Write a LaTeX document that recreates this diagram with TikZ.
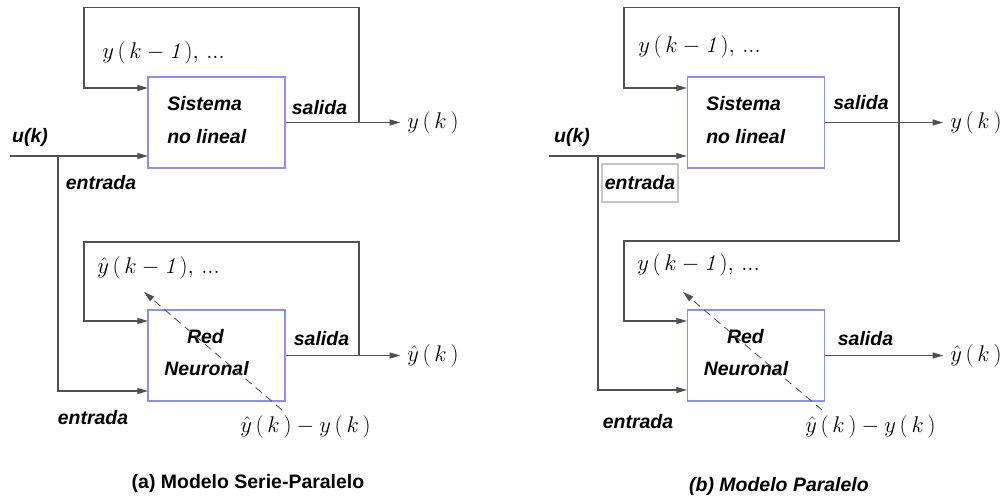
\documentclass[tikz,border=0pt]{standalone}
\usepackage{fix-cm}
\usepackage{fontspec}
\setsansfont{Liberation Sans}
\usetikzlibrary{arrows.meta}

\definecolor{wire}{HTML}{505050}
\definecolor{boxblue}{HTML}{8C8CFF}
\definecolor{framegray}{HTML}{C4C4C4}

% tight baseline dots used after the delayed outputs
\newcommand{\tdots}{{.}{.}{.}}

\tikzset{
  wire/.style={draw=wire, line width=0.8pt},
  arr/.style={wire, -{Triangle[length=8pt,width=4.5pt]}},
  dasharr/.style={wire, line width=0.6pt, dash pattern=on 6pt off 4pt, -{Triangle[length=8pt,width=4.5pt]}},
  blockbox/.style={draw=boxblue, line width=0.9pt, minimum width=102.75pt, minimum height=68.25pt, inner sep=0pt},
  lbl/.style={font=\sffamily\bfseries\itshape\fontsize{14.6}{17}\selectfont, inner sep=0pt},
  mlbl/.style={font=\fontsize{17}{20}\selectfont, inner sep=0pt},
  captxt/.style={font=\sffamily\bfseries\fontsize{14.6}{17}\selectfont, inner sep=0pt},
  framed/.style={lbl, draw=framegray, line width=1.4pt, minimum width=57pt, minimum height=28.5pt},
}

\begin{document}
\begin{tikzpicture}[x=0.75pt, y=-0.75pt]
\useasboundingbox (0,0) rectangle (1003,498);

% ---------------- (a) series-parallel model ----------------
\node[blockbox] (sys1) at (216.5,122.5) {};
\node[blockbox] (nn1) at (216.5,355.5) {};
\node[lbl, anchor=west] (sys1l1) at (167,104) {Sistema};
\node[lbl, anchor=west] (sys1l2) at (167,137) {no lineal};
\node[lbl] (nn1l1) at (205.5,337) {Red};
\node[lbl] (nn1l2) at (206.5,369) {Neuronal};
\node[lbl] (u1) at (30,137) {u(k)};
\node[lbl] (in1a) at (101,183) {entrada};
\node[lbl] (in1b) at (93,418) {entrada};
\node[lbl] (out1a) at (319.5,108) {salida};
\node[lbl] (out1b) at (321.5,339) {salida};
\node[mlbl, anchor=west] (y1) at (407,122.5) {$y\,(\,k\,)$};
\node[mlbl, anchor=west] (yh1) at (407,355.5) {$\hat y\,(\,k\,)$};
\node[mlbl, anchor=west] (fb1) at (102,53) {$y\,(\,k-\mathit{1}\,),\,\tdots$};
\node[mlbl, anchor=west] (fbh1) at (97,268) {$\hat y\,(\,k-\mathit{1}\,),\,\tdots$};
\node[mlbl, anchor=west] (err1) at (240,427) {$\hat y\,(\,k\,)-y\,(\,k\,)$};
\node[captxt] (capa) at (248,483) {(a) Modelo Serie-Paralelo};

\coordinate (src1) at (10,156);
\coordinate (j1) at (58,156);
\coordinate (j1b) at (58,391);
\coordinate (sys1in) at (148,156);
\coordinate (nn1in) at (148,391);
\coordinate (o1) at (359,122.5);
\coordinate (o1b) at (359,355.5);
\coordinate (top1) at (84,7.5);
\coordinate (top1b) at (84,242);
\coordinate (sys1fb) at (148,88);
\coordinate (nn1fb) at (148,321);
\coordinate (dsh1s) at (282,410);
\coordinate (dsh1e) at (144,292);

\draw[arr] (src1) -- (sys1in);
\draw[arr] (j1) -- (j1b) -- (nn1in);
\draw[arr] (sys1.east) -- ([xshift=-5pt]y1.west);
\draw[arr] (o1) |- (top1) |- (sys1fb);
\draw[arr] (nn1.east) -- ([xshift=-5pt]yh1.west);
\draw[arr] (o1b) |- (top1b) |- (nn1fb);
\draw[dasharr] (dsh1s) -- (dsh1e);

% ---------------- (b) parallel model ----------------
\node[blockbox] (sys2) at (756,122.5) {};
\node[blockbox] (nn2) at (756,355.5) {};
\node[lbl, anchor=west] (sys2l1) at (706,104) {Sistema};
\node[lbl, anchor=west] (sys2l2) at (706,137) {no lineal};
\node[lbl] (nn2l1) at (745.5,337) {Red};
\node[lbl] (nn2l2) at (746,369) {Neuronal};
\node[lbl] (u2) at (572,137) {u(k)};
\node[framed] (in2a) at (640,183) {entrada};
\node[lbl] (in2b) at (638,422) {entrada};
\node[lbl] (out2a) at (861,103) {salida};
\node[lbl] (out2b) at (865.5,339) {salida};
\node[mlbl, anchor=west] (y2) at (950,122.5) {$y\,(\,k\,)$};
\node[mlbl, anchor=west] (yh2) at (950,355.5) {$\hat y\,(\,k\,)$};
\node[mlbl, anchor=west] (fb2) at (638,47) {$y\,(\,k-\mathit{1}\,),\,\tdots$};
\node[mlbl, anchor=west] (fbh2) at (637,265) {$y\,(\,k-\mathit{1}\,),\,\tdots$};
\node[mlbl, anchor=west] (err2) at (805,427) {$\hat y\,(\,k\,)-y\,(\,k\,)$};
\node[captxt, font=\sffamily\bfseries\itshape\fontsize{14.6}{17}\selectfont] (capb) at (779,486) {(b) Modelo Paralelo};

\coordinate (src2) at (549,156);
\coordinate (j2) at (598,156);
\coordinate (j2b) at (598,390);
\coordinate (sys2in) at (687,156);
\coordinate (nn2in) at (687,390);
\coordinate (o2) at (899,122.5);
\coordinate (top2) at (624,7.5);
\coordinate (top2b) at (624,241);
\coordinate (sys2fb) at (687,88);
\coordinate (nn2fb) at (687,321);
\coordinate (dsh2s) at (822,410);
\coordinate (dsh2e) at (683,292);

\draw[arr] (src2) -- (sys2in);
\draw[arr] (j2) -- (j2b) -- (nn2in);
\draw[arr] (sys2.east) -- ([xshift=-5pt]y2.west);
\draw[arr] (o2) |- (top2) |- (sys2fb);
\draw[arr] (o2) |- (top2b) |- (nn2fb);
\draw[arr] (nn2.east) -- ([xshift=-5pt]yh2.west);
\draw[dasharr] (dsh2s) -- (dsh2e);
\end{tikzpicture}
\end{document}
